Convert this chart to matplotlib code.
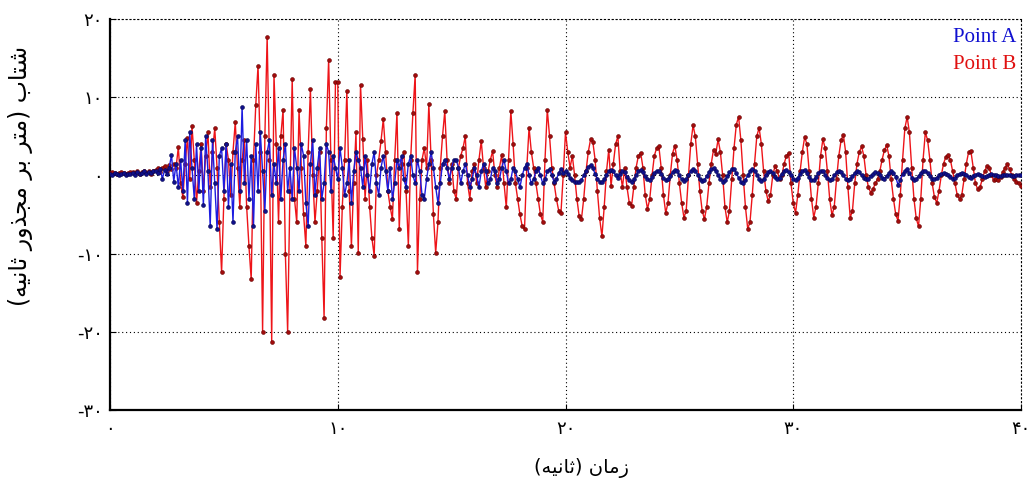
import matplotlib
matplotlib.use("Agg")
import matplotlib.pyplot as plt
import numpy as np

# time axis of the records (s), sampled every 0.1 s
time = np.linspace(0.0, 40.0, 401)

# acceleration at point A
accel_a = [
    0.2, 0.1, 0.3, 0.2, 0.1, 0.2, 0.3, 0.1, 0.2, 0.2,
    0.3, 0.1, 0.4, 0.2, 0.3, 0.5, 0.2, 0.4, 0.3, 0.6,
    0.5, 0.3, 0.8, -0.4, 0.7, 0.2, 1.0, 2.6, -0.8, 1.5,
    -1.5, 2.0, -2.0, 4.5, -3.5, 5.5, 1.0, -3.0, 4.0, -2.0,
    3.5, -3.8, 5.0, 0.5, -6.5, 4.5, -1.0, -6.9, 2.5, 3.5,
    -2.0, 4.0, -4.0, 1.5, -6.0, 3.0, 5.0, -2.0, 8.8, -1.0,
    4.5, -3.0, 2.5, -6.5, 4.0, -2.0, 5.5, 0.5, -4.5, 3.0,
    4.5, -2.5, 1.5, -1.0, 3.5, -3.0, 2.0, 4.0, -2.0, 1.0,
    -3.0, 3.5, 1.0, -2.0, 4.0, 2.5, -3.5, -6.5, 1.5, 4.5,
    -2.5, 1.0, 3.5, -3.0, -1.0, 4.0, 3.0, -2.0, 2.5, 1.0,
    -0.5, 3.5, 1.0, -2.5, -1.0, 2.0, -3.5, 0.5, 3.0, 2.0,
    1.0, -1.5, 2.5, 0.0, -2.0, 1.5, 3.0, -1.0, -2.5, 1.0,
    2.5, 0.5, -2.0, 1.0, -3.0, -1.0, 2.0, 1.0, 2.5, -0.5,
    -1.5, 1.5, 2.5, 0.0, -1.0, 2.0, 0.5, -2.5, -3.0, -0.5,
    1.5, 3.0, 1.0, -1.5, -3.5, -1.0, 1.5, 2.0, 1.0, -0.5,
    1.0, 2.0, 2.0, 1.0, -1.0, 0.5, 1.5, 0.0, -1.5, -0.5,
    1.0, 0.0, -1.5, 0.5, 1.5, 0.5, -1.0, -0.5, 1.0, 0.5,
    -1.0, -0.5, 1.0, 2.0, 0.5, -1.0, -0.5, 1.0, 0.5, -0.5,
    -1.5, 0.0, 1.0, 1.5, 0.0, -1.0, -0.5, 0.5, 1.0, 0.0,
    -1.0, -0.5, 0.5, 0.8, 0.0, -0.8, -0.5, 0.3, 0.8, 0.3,
    0.5, 0.2, -0.3, -0.6, -0.8, -0.9, -0.9, -0.6, 0.0, 0.6,
    1.1, 1.3, 0.9, 0.2, -0.4, -0.8, -0.9, -0.5, 0.0, 0.5,
    0.7, 0.5, 0.0, -0.3, 0.2, 0.6, 0.4, -0.2, -0.6, -0.8,
    -0.5, 0.0, 0.5, 0.7, 0.4, -0.1, -0.5, -0.6, -0.2, 0.3,
    0.6, 0.6, 0.2, -0.3, -0.6, -0.5, -0.1, 0.4, 0.7, 0.5,
    0.0, -0.5, -0.7, -0.5, 0.0, 0.5, 0.8, 0.6, 0.1, -0.4,
    -0.7, -0.6, -0.1, 0.4, 0.8, 0.9, 0.5, 0.0, -0.5, -0.8,
    -0.6, -0.1, 0.4, 0.8, 0.8, 0.3, -0.3, -0.8, -1.0, -0.6,
    0.0, 0.5, 0.8, 0.6, 0.1, -0.4, -0.7, -0.5, 0.0, 0.4,
    0.6, 0.3, -0.2, -0.5, -0.3, 0.2, 0.5, 0.7, 0.4, 0.0,
    -0.4, -0.6, -0.3, 0.2, 0.6, 0.7, 0.3, -0.2, -0.6, -0.6,
    -0.2, 0.3, 0.6, 0.5, 0.1, -0.3, -0.6, -0.5, 0.0, 0.4,
    0.6, 0.4, 0.0, -0.4, -0.6, -0.5, -0.1, 0.3, 0.5, 0.4,
    0.0, -0.3, -0.5, -0.4, -0.1, 0.2, 0.4, 0.3, 0.0, -0.3,
    -0.4, -0.1, 0.3, 0.5, 0.3, -0.2, -1.2, -0.6, 0.2, 0.6,
    0.8, 0.3, -0.3, -0.6, -0.5, -0.1, 0.3, 0.5, 0.6, 0.3,
    -0.1, -0.4, -0.5, -0.3, 0.0, 0.2, 0.3, 0.2, 0.0, -0.2,
    -0.4, -0.3, 0.0, 0.2, 0.3, 0.2, 0.0, -0.2, -0.3, -0.1,
    0.1, 0.2, 0.1, -0.1, -0.2, -0.1, 0.1, 0.2, 0.1, 0.0,
    -0.1, -0.1, 0.0, 0.1, 0.1, 0.0, -0.1, -0.1, 0.0, 0.0,
    0.0,
]

# acceleration at point B
accel_b = [
    0.3, 0.4, 0.3, 0.2, 0.3, 0.4, 0.3, 0.2, 0.3, 0.4,
    0.4, 0.3, 0.5, 0.2, 0.4, 0.6, 0.3, 0.5, 0.2, 0.6,
    0.7, 0.9, 0.4, 1.0, 1.2, 0.6, 1.3, 0.8, 1.5, 1.0,
    3.6, -1.0, -2.8, 1.5, 4.8, -0.5, 6.3, 2.0, -3.5, 0.5,
    4.0, -2.0, 2.5, 5.5, -1.5, 3.0, 6.0, 1.0, -6.0, -12.4,
    -3.0, 4.0, 2.0, -2.5, 3.0, 6.8, 1.0, -4.0, 2.0, 4.5,
    -4.0, -9.0, -13.3, 2.0, 9.0, 14.0, 3.0, -20.0, 5.0, 17.7,
    2.0, -21.3, 12.9, 4.0, -6.0, 5.0, 8.4, -10.0, -20.0, -2.0,
    12.3, -3.0, -6.0, 8.4, 1.0, -5.0, -9.0, 3.0, 11.0, 0.0,
    -6.0, -2.0, 3.0, -8.0, -18.2, 6.0, 14.8, 2.0, -8.0, 12.0,
    12.0, -13.0, -4.0, 2.0, 10.8, -2.0, -9.0, -1.0, 5.5, -9.9,
    11.6, 4.6, -3.0, 2.0, -4.0, -8.0, -10.3, 0.0, 2.0, 4.4,
    7.2, 3.0, -2.0, -4.0, -5.6, 2.0, 8.0, -6.9, 1.5, 3.0,
    -2.0, -9.0, 2.0, 8.0, 12.9, -12.3, -3.0, 2.0, 3.5, 1.0,
    9.1, 2.0, -5.0, -9.9, -6.0, 1.0, 5.0, 8.2, 2.0, -1.0,
    1.5, -2.0, -3.0, 1.0, 2.5, 3.5, 5.0, -1.0, -3.0, 0.5,
    1.5, -1.0, 2.0, 4.4, 1.0, -1.5, 0.5, 2.0, 3.1, 0.0,
    -1.5, 1.0, 2.6, -1.0, -4.1, 2.0, 8.2, 4.0, -1.0, -3.0,
    -5.0, -6.5, -6.9, 1.0, 6.1, 3.0, 1.0, -1.0, -3.0, -5.0,
    -5.9, 2.0, 8.4, 5.0, 1.0, -1.0, -3.0, -4.5, -4.8, 0.0,
    5.5, 3.0, 1.0, 2.5, 0.0, -3.0, -5.2, -5.6, -3.0, 0.5,
    3.0, 4.6, 4.3, 2.0, -2.0, -5.5, -7.8, -4.0, 0.5, 3.3,
    -1.4, 1.5, 4.0, 5.0, 0.5, -1.5, 1.0, -1.5, -3.5, -3.9,
    -1.5, 1.0, 2.5, 2.9, 1.0, -2.5, -4.3, -3.0, 0.0, 2.5,
    3.5, 3.7, 1.0, -2.5, -4.8, -3.5, 0.0, 2.8, 3.8, 2.0,
    -1.0, -3.5, -5.4, -4.5, 0.0, 4.0, 6.4, 5.0, 1.5, -2.0,
    -4.5, -5.6, -4.0, -1.0, 1.5, 3.3, 2.8, 4.6, 3.0, 0.0,
    -4.0, -6.0, -4.5, -0.5, 3.5, 6.5, 7.5, 4.5, 0.0, -4.0,
    -6.8, -6.0, -2.5, 1.5, 5.0, 6.1, 4.0, 0.5, -2.0, -3.3,
    -2.5, 0.0, 1.2, 0.5, -0.5, 0.0, 1.5, 2.5, 2.9, -1.0,
    -3.5, -4.8, -2.5, 0.5, 3.0, 4.9, 4.0, 0.5, -3.0, -5.4,
    -4.0, -1.0, 2.5, 4.6, 3.5, 0.5, -3.0, -5.1, -4.0, -0.5,
    2.5, 4.5, 5.2, 3.0, -1.5, -5.4, -4.5, -1.0, 1.5, 3.0,
    3.7, 2.5, 0.0, -1.5, -2.2, -1.8, -1.0, -0.5, 0.5, 2.0,
    3.2, 3.9, 2.5, -0.5, -3.0, -5.0, -5.8, -2.5, 2.0, 6.0,
    7.5, 5.5, 1.0, -3.0, -5.5, -6.5, -3.0, 2.0, 5.5, 4.5,
    2.0, -1.0, -2.8, -3.5, -2.0, 0.0, 1.5, 2.4, 2.6, 2.0,
    0.5, -1.0, -2.5, -3.0, -2.5, -0.5, 1.5, 3.0, 3.1, 1.0,
    -1.0, -1.8, -1.5, -0.5, 0.5, 1.2, 1.0, 0.0, -0.6, -0.4,
    -0.6, -0.2, 0.4, 1.0, 1.4, 0.8, 0.0, -0.4, -0.8, -1.0,
    -1.3,
]

x_ticks = [0, 10, 20, 30, 40]
y_ticks = [-30, -20, -10, 0, 10, 20]

x_title = "زمان (ثانیه)"
y_title = "شتاب (متر بر مجذور ثانیه)"
series_names = ["Point A", "Point B"]

# Arabic presentation forms: isolated, final, initial, medial
FORMS = {
    "ا": ("\ufe8d", "\ufe8e", None, None),
    "ب": ("\ufe8f", "\ufe90", "\ufe91", "\ufe92"),
    "ت": ("\ufe95", "\ufe96", "\ufe97", "\ufe98"),
    "ث": ("\ufe99", "\ufe9a", "\ufe9b", "\ufe9c"),
    "ج": ("\ufe9d", "\ufe9e", "\ufe9f", "\ufea0"),
    "ذ": ("\ufeab", "\ufeac", None, None),
    "ر": ("\ufead", "\ufeae", None, None),
    "ز": ("\ufeaf", "\ufeb0", None, None),
    "ش": ("\ufeb5", "\ufeb6", "\ufeb7", "\ufeb8"),
    "م": ("\ufee1", "\ufee2", "\ufee3", "\ufee4"),
    "ن": ("\ufee5", "\ufee6", "\ufee7", "\ufee8"),
    "ه": ("\ufee9", "\ufeea", "\ufeeb", "\ufeec"),
    "و": ("\ufeed", "\ufeee", None, None),
    "ی": ("\ufbfc", "\ufbfd", "\ufbfe", "\ufbff"),
}


def rtl(text):
    """Join the letters and put the string in visual (left to right) order."""
    out = []
    for i, ch in enumerate(text):
        if ch not in FORMS:
            out.append(ch)
            continue
        prev = text[i - 1] if i > 0 else ""
        nxt = text[i + 1] if i + 1 < len(text) else ""
        iso, fin, ini, med = FORMS[ch]
        join_prev = prev in FORMS and FORMS[prev][2] is not None
        join_next = ini is not None and nxt in FORMS
        if join_prev and join_next:
            out.append(med)
        elif join_prev:
            out.append(fin)
        elif join_next:
            out.append(ini)
        else:
            out.append(iso)
    mirror = {"(": ")", ")": "("}
    return "".join(mirror.get(c, c) for c in reversed(out))


def fa_num(v):
    digits = "".join(chr(0x06F0 + int(d)) for d in str(abs(v)))
    return ("-" if v < 0 else "") + digits


W, H = 1033, 484
fig = plt.figure(figsize=(W / 100, H / 100), dpi=100)
ax = fig.add_axes([110 / W, 1 - 410 / H, 911 / W, 391 / H])

ax.plot(time, accel_b, color="#ee1419", lw=1.0, marker="o", ms=2.8,
        mfc="#a00c0c", mec="#6a0000", mew=0.4, zorder=3)
ax.plot(time, accel_a, color="#1c1ce0", lw=1.0, marker="o", ms=2.8,
        mfc="#10108a", mec="#050550", mew=0.4, zorder=4)

ax.set_xlim(0, 40)
ax.set_ylim(-30, 20)
ax.set_xticks(x_ticks)
ax.set_yticks(y_ticks)
ax.set_xticklabels([fa_num(v) for v in x_ticks], fontsize=13,
                   family="DejaVu Sans")
ax.set_yticklabels([fa_num(v) for v in y_ticks], fontsize=13,
                   family="DejaVu Sans")
ax.tick_params(direction="in", length=4, width=0.8, color="black")
ax.tick_params(axis="x", pad=7)
ax.tick_params(axis="y", pad=5)

ax.grid(True, color="black", lw=0.8, linestyle=(0, (1, 2.5)))
ax.set_axisbelow(True)
for side in ["left", "bottom"]:
    ax.spines[side].set_linewidth(1.6)
for side in ["top", "right"]:
    ax.spines[side].set_linestyle((0, (1, 2.5)))
    ax.spines[side].set_linewidth(0.8)

ax.text(0.9945, 0.953, series_names[0], transform=ax.transAxes, ha="right",
        va="center", color="#1010d0", fontsize=15, family="Liberation Serif")
ax.text(0.9945, 0.884, series_names[1], transform=ax.transAxes, ha="right",
        va="center", color="#e01010", fontsize=15, family="Liberation Serif")

fig.text(581 / W, 1 - 468 / H, rtl(x_title), ha="center", va="center",
         fontsize=14, family="DejaVu Sans")
fig.text(21 / W, 1 - 176 / H, rtl(y_title), ha="center", va="center",
         rotation=90, fontsize=17, family="DejaVu Sans")

fig.savefig("out.png", dpi=100)
